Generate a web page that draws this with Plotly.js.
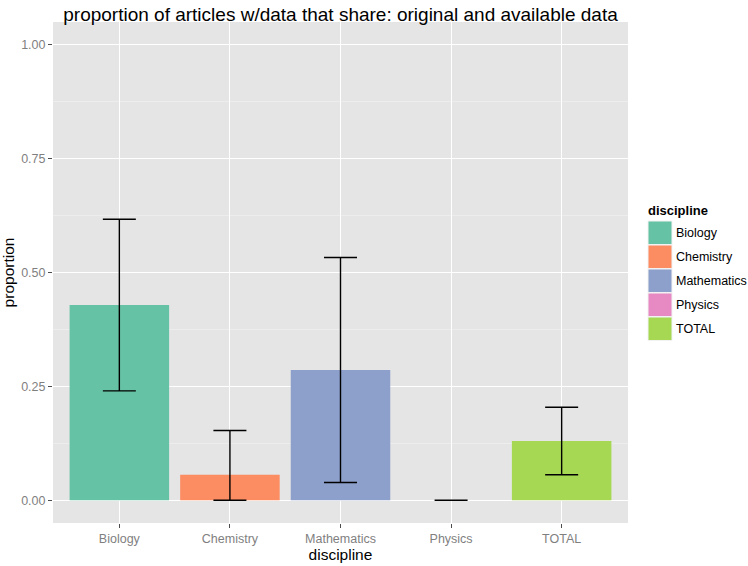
<!DOCTYPE html>
<html><head><meta charset="utf-8">
<script src="https://cdn.plot.ly/plotly-3.0.1.min.js"></script>
<style>html,body{margin:0;padding:0;background:#fff}#chart{width:748px;height:566px}</style>
</head><body><div id="chart"></div>
<script>
const categories = ["Biology", "Chemistry", "Mathematics", "Physics", "TOTAL"];
const proportion = [0.4286, 0.056, 0.2857, 0.0, 0.130];
const upper = [0.617, 0.153, 0.533, 0.0, 0.204];
const lower = [0.240, 0.0, 0.039, 0.0, 0.056];
const colors = ["#66C2A5", "#FC8D62", "#8DA0CB", "#E78AC3", "#A6D854"];
const yTicks = [0, 0.25, 0.5, 0.75, 1.0];

const L = 53, R = 628, T = 22, B = 523, W = 748, H = 566;
const px2x = p => (p - L) / (R - L);
const px2y = p => (B - p) / (B - T);

const traces = categories.map((c, i) => ({
  type: 'bar', x: [c], y: [proportion[i]], name: c,
  marker: {color: colors[i], line: {width: 0}},
  width: 0.9, showlegend: false,
  error_y: {type: 'data', symmetric: false,
    array: [upper[i] - proportion[i]], arrayminus: [proportion[i] - lower[i]],
    color: '#000', thickness: 1.4, width: 16.5, visible: true},
  hoverinfo: 'x+y'
}));

const shapes = [], annotations = [];
annotations.push({xref: 'paper', yref: 'paper', x: px2x(646), y: px2y(210), xanchor: 'left', yanchor: 'middle',
  text: '<b>discipline</b>', showarrow: false, font: {family: 'Liberation Sans, Arial, sans-serif', size: 13, color: '#000'}});
categories.forEach((c, i) => {
  const y0 = 221 + i * 24;
  shapes.push({type: 'rect', xref: 'paper', yref: 'paper', x0: px2x(648), x1: px2x(672),
    y0: px2y(y0), y1: px2y(y0 + 23.5), fillcolor: colors[i], line: {width: 1, color: '#f2f2f2'}, layer: 'above'});
  annotations.push({xref: 'paper', yref: 'paper', x: px2x(674), y: px2y(y0 + 12), xanchor: 'left', yanchor: 'middle',
    text: c, showarrow: false, font: {family: 'Liberation Sans, Arial, sans-serif', size: 12.5, color: '#000'}});
});

const layout = {
  width: W, height: H,
  margin: {l: L, r: W - R, t: T, b: H - B, pad: 0},
  paper_bgcolor: '#fff', plot_bgcolor: '#E5E5E5',
  font: {family: 'Liberation Sans, Arial, sans-serif'},
  title: {text: 'proportion of articles w/data that share: original and available data',
    x: 0.5 * (L + R) / W, xanchor: 'center', y: 1 - 14 / H, yanchor: 'middle',
    font: {size: 19, color: '#000'}},
  showlegend: false,
  bargap: 0.1,
  xaxis: {type: 'category', categoryorder: 'array', categoryarray: categories,
    range: [-0.6, 4.6], showgrid: true, gridcolor: '#fff', gridwidth: 1.1,
    ticks: 'outside', ticklen: 4, tickcolor: '#4d4d4d', tickwidth: 1,
    tickfont: {size: 12.5, color: '#7f7f7f'}, zeroline: false, showline: false,
    title: {text: 'discipline', font: {size: 15.5, color: '#000'}, standoff: 2}},
  yaxis: {range: [-0.05, 1.05], tickvals: yTicks, tickformat: '.2f',
    showgrid: true, gridcolor: '#fff', gridwidth: 1.1, zeroline: false, showline: false,
    ticks: 'outside', ticklen: 4, tickcolor: '#4d4d4d', tickwidth: 1,
    tickfont: {size: 12.5, color: '#7f7f7f'},
    minor: {dtick: 0.125, tick0: 0.125, showgrid: true, gridcolor: '#F2F2F2', gridwidth: 0.6, ticks: ''},
    title: {text: 'proportion', font: {size: 15.5, color: '#000'}, standoff: 5}},
  shapes: shapes, annotations: annotations
};

Plotly.newPlot('chart', traces, layout, {displayModeBar: false, staticPlot: true});
</script>
</body></html>
